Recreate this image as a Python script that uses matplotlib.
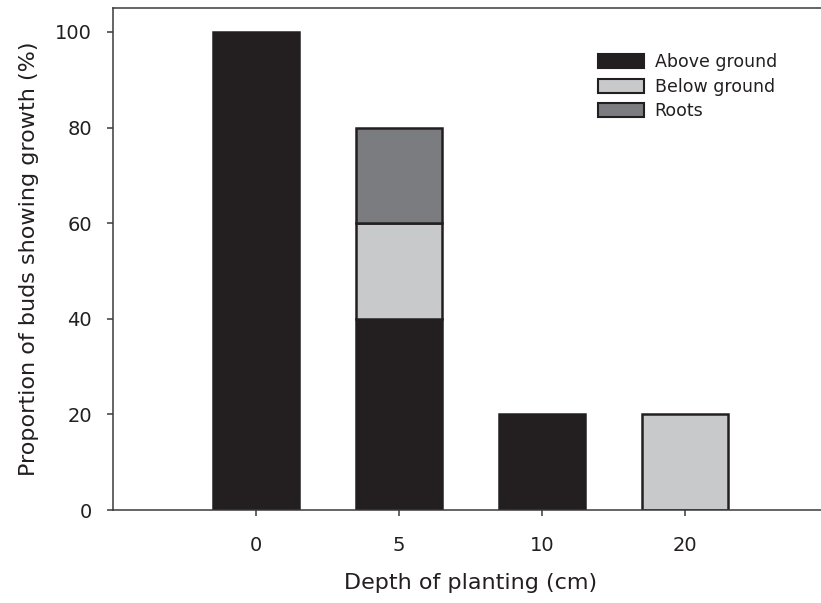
import matplotlib
matplotlib.use("Agg")
import matplotlib.pyplot as plt
from matplotlib.patches import Patch
import numpy as np

plt.rcParams['font.family'] = ['DejaVu Sans']

depths = ["0", "5", "10", "20"]
above_ground = [100, 40, 20, 0]
below_ground = [0, 20, 0, 20]
roots = [0, 20, 0, 0]

c_above = "#231f20"
c_below = "#c8c9cb"
c_roots = "#7a7c80"
ink = "#231f20"

fig = plt.figure(figsize=(8.21, 6.03), dpi=100)
ax = fig.add_axes([113 / 821, 93 / 603, 715 / 821, 502 / 603])

x = np.arange(len(depths))
w = 0.6
above = np.array(above_ground)
below = np.array(below_ground)
rt = np.array(roots)

edge = dict(edgecolor=ink, linewidth=1.8)
for i in range(len(x)):
    if above[i] > 0:
        ax.bar(x[i], above[i], w, color=c_above, **edge)
    if below[i] > 0:
        ax.bar(x[i], below[i], w, bottom=above[i], color=c_below, **edge)
    if rt[i] > 0:
        ax.bar(x[i], rt[i], w, bottom=above[i] + below[i], color=c_roots, **edge)

ax.set_xlim(-1, 4)
ax.set_ylim(0, 105)
ax.set_xticks(x)
ax.set_xticklabels(depths)
ax.set_yticks([0, 20, 40, 60, 80, 100])

for s in ["left", "bottom", "top"]:
    ax.spines[s].set_color("#3a3a3a")
    ax.spines[s].set_linewidth(1.1)
ax.spines["right"].set_visible(False)
ax.tick_params(axis="both", direction="out", length=4.5, width=1.1,
               color="#3a3a3a", labelsize=14, labelcolor=ink)
ax.tick_params(axis="y", pad=10.5)
ax.tick_params(axis="x", pad=14.5)

ax.set_ylabel("Proportion of buds showing growth (%)", fontsize=16,
              color=ink, labelpad=12)
ax.set_xlabel("Depth of planting (cm)", fontsize=16, color=ink,
              labelpad=13)

handles = [Patch(facecolor=c_above, edgecolor=ink, linewidth=1.5, label="Above ground"),
           Patch(facecolor=c_below, edgecolor=ink, linewidth=1.5, label="Below ground"),
           Patch(facecolor=c_roots, edgecolor=ink, linewidth=1.5, label="Roots")]
leg = ax.legend(handles=handles, loc="upper left", bbox_to_anchor=(0.678, 0.91),
                borderaxespad=0, borderpad=0,
                frameon=False, fontsize=12.5, handlelength=2.65, handleheight=0.86,
                handletextpad=0.63, labelspacing=0.375)
for t in leg.get_texts():
    t.set_color(ink)

fig.savefig("out.png", dpi=100)
